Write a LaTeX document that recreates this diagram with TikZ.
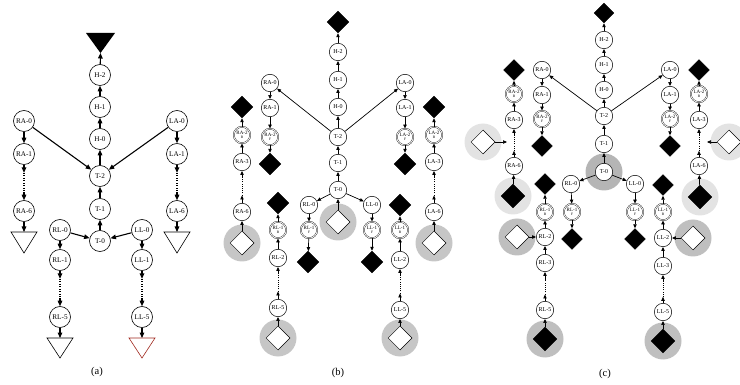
\documentclass[tikz,border=0pt]{standalone}
\usepackage{fontspec}
\setmainfont{Liberation Serif}
\usetikzlibrary{arrows.meta,calc,shapes.geometric}

\tikzset{
  nA/.style={circle, draw, line width=0.6pt, fill=white, minimum size=21pt, inner sep=0pt, font=\fontsize{7.2}{8}\selectfont},
  nB/.style={circle, draw, line width=0.5pt, fill=white, minimum size=17.4pt, inner sep=0pt, font=\fontsize{6}{7}\selectfont},
  nD/.style={circle, draw, fill=white, line width=0.35pt, double, double distance=0.8pt, minimum size=16.4pt, inner sep=0pt, align=center, font=\fontsize{5}{5}\selectfont},
  dblk/.style={diamond, fill=black, draw=black, inner sep=0pt, minimum width=#1pt, minimum height=#1pt},
  dblk/.default=22,
  dwht/.style={diamond, fill=white, draw=black, line width=0.5pt, inner sep=0pt, minimum width=24pt, minimum height=24pt},
  halo/.style={circle, inner sep=0pt, minimum size=37pt, fill=#1},
  ea/.style={line width=1.1pt, -{Triangle[length=5.5pt,width=4.6pt]}},
  eb/.style={line width=0.7pt, -{Triangle[length=4pt,width=3.4pt]}},
  dA/.style={line width=1.2pt, dash pattern=on 1pt off 1.5pt},
  dB/.style={line width=0.9pt, dash pattern=on 0.9pt off 1.3pt},
  captext/.style={font=\fontsize{10.5}{12}\selectfont},
  tri/.style={draw=black, line width=0.6pt, fill=white},
}

% arrow, dotted run, arrow: an elided stretch of a chain
\newcommand\dotlink[4]{%
  \draw[#1] (#3) -- ($(#3)!0.33!(#4)$);
  \draw[#2] ($(#3)!0.33!(#4)$) -- ($(#3)!0.67!(#4)$);
  \draw[#1] ($(#3)!0.67!(#4)$) -- (#4);
}
\newcommand\sublabel[2]{#1\\[-1.6pt]{\fontsize{3.6}{3.6}\selectfont #2}}

\begin{document}
\begin{tikzpicture}[x=1pt,y=-1pt]
\useasboundingbox (0,0) rectangle (740,385);

% ================= (a) =================
\fill (86,33) -- (115,33) -- (100.5,53) -- cycle;
\coordinate (tHa) at (100.5,53);
\draw[tri] (11,232) -- (37,232) -- (24,253) -- cycle;
\coordinate (tRAa) at (24,232);
\draw[tri] (164,232) -- (190,232) -- (177,253) -- cycle;
\coordinate (tLAa) at (177,232);
\draw[tri] (47,338) -- (73,338) -- (60,358) -- cycle;
\coordinate (tRLa) at (60,338);
\draw[tri, draw={rgb,255:red,160;green,40;blue,30}] (129,338) -- (155,338) -- (142,358) -- cycle;
\coordinate (tLLa) at (142,338);

\node[nA] (H2a) at (100,75) {H-2};
\node[nA] (H1a) at (100,107) {H-1};
\node[nA] (H0a) at (100,139) {H-0};
\node[nA] (T2a) at (100,176) {T-2};
\node[nA] (T1a) at (100,209) {T-1};
\node[nA] (T0a) at (100,241) {T-0};
\node[nA] (RA0a) at (24,121) {RA-0};
\node[nA] (RA1a) at (24,154) {RA-1};
\node[nA] (RA6a) at (24,211) {RA-6};
\node[nA] (LA0a) at (177,121) {LA-0};
\node[nA] (LA1a) at (177,154) {LA-1};
\node[nA] (LA6a) at (177,211) {LA-6};
\node[nA] (RL0a) at (60,230) {RL-0};
\node[nA] (RL1a) at (60,260) {RL-1};
\node[nA] (RL5a) at (60,317) {RL-5};
\node[nA] (LL0a) at (142,230) {LL-0};
\node[nA] (LL1a) at (142,260) {LL-1};
\node[nA] (LL5a) at (142,317) {LL-5};

\draw[ea] (H2a) -- (tHa);
\draw[ea] (H1a) -- (H2a);
\draw[ea] (H0a) -- (H1a);
\draw[ea] (T2a) -- (H0a);
\draw[ea] (T1a) -- (T2a);
\draw[ea] (T0a) -- (T1a);
\draw[ea] (RA0a) -- (T2a);
\draw[ea] (LA0a) -- (T2a);
\draw[ea] (RL0a) -- (T0a);
\draw[ea] (LL0a) -- (T0a);
\draw[ea] (RA0a) -- (RA1a);
\dotlink{ea}{dA}{RA1a}{RA6a}
\draw[ea] (RA6a) -- (tRAa);
\draw[ea] (LA0a) -- (LA1a);
\dotlink{ea}{dA}{LA1a}{LA6a}
\draw[ea] (LA6a) -- (tLAa);
\draw[ea] (RL0a) -- (RL1a);
\dotlink{ea}{dA}{RL1a}{RL5a}
\draw[ea] (RL5a) -- (tRLa);
\draw[ea] (LL0a) -- (LL1a);
\dotlink{ea}{dA}{LL1a}{LL5a}
\draw[ea] (LL5a) -- (tLLa);

\node[captext] (capa) at (97,372) {(a)};

% ================= (b) =================
\node[halo=gray!45] (g0b) at (338,222) {};
\node[halo=gray!45] (gRAb) at (242,243) {};
\node[halo=gray!45] (gLAb) at (434,243) {};
\node[halo=gray!45] (gRLb) at (278,338) {};
\node[halo=gray!45] (gLLb) at (400,338) {};

\node[dblk] (Dtopb) at (338,22) {};
\node[nB] (H2b) at (338,52) {H-2};
\node[nB] (H1b) at (338,80) {H-1};
\node[nB] (H0b) at (338,107) {H-0};
\node[nB] (T2b) at (338,137) {T-2};
\node[nB] (T1b) at (338,163) {T-1};
\node[nB] (T0b) at (338,190) {T-0};
\node[dwht] (W0b) at (338,222) {};

\node[nB] (RA0b) at (270,83) {RA-0};
\node[nB] (RA1b) at (270,108) {RA-1};
\node[nD] (RA2Fb) at (270,137) {\sublabel{RA-2}{F}};
\node[dblk] (DRAFb) at (270,164) {};
\node[dblk] (DRABb) at (242,107) {};
\node[nD] (RA2Bb) at (242,135) {\sublabel{RA-2}{B}};
\node[nB] (RA3b) at (242,162) {RA-3};
\node[nB] (RA6b) at (242,212) {RA-6};
\node[dwht] (WRAb) at (242,243) {};

\node[nB] (LA0b) at (405,83) {LA-0};
\node[nB] (LA1b) at (405,108) {LA-1};
\node[nD] (LA2Fb) at (405,137) {\sublabel{LA-2}{F}};
\node[dblk] (DLAFb) at (405,164) {};
\node[dblk] (DLABb) at (434,107) {};
\node[nD] (LA2Bb) at (434,135) {\sublabel{LA-2}{B}};
\node[nB] (LA3b) at (434,162) {LA-3};
\node[nB] (LA6b) at (434,212) {LA-6};
\node[dwht] (WLAb) at (434,243) {};

\node[nB] (RL0b) at (309,205) {RL-0};
\node[nD] (RL1Fb) at (309,230) {\sublabel{RL-1}{F}};
\node[dblk] (DRLFb) at (308,262) {};
\node[dblk] (DRLBb) at (278,203) {};
\node[nD] (RL1Bb) at (278,230) {\sublabel{RL-1}{B}};
\node[nB] (RL2b) at (278,258) {RL-2};
\node[nB] (RL5b) at (278,308) {RL-5};
\node[dwht] (WRLb) at (278,338) {};

\node[nB] (LL0b) at (372,205) {LL-0};
\node[nD] (LL1Fb) at (372,230) {\sublabel{LL-1}{F}};
\node[dblk] (DLLFb) at (372,262) {};
\node[dblk] (DLLBb) at (400,205) {};
\node[nD] (LL1Bb) at (400,230) {\sublabel{LL-1}{B}};
\node[nB] (LL2b) at (400,260) {LL-2};
\node[nB] (LL5b) at (400,310) {LL-5};
\node[dwht] (WLLb) at (400,338) {};

\draw[eb] (H2b) -- (Dtopb);
\draw[eb] (H1b) -- (H2b);
\draw[eb] (H0b) -- (H1b);
\draw[eb] (T2b) -- (H0b);
\draw[eb] (T1b) -- (T2b);
\draw[eb] (T0b) -- (T1b);
\draw[eb] (W0b) -- (T0b);
\draw[eb] (T2b) -- (RA0b);
\draw[eb] (T2b) -- (LA0b);
\draw[eb] (T0b) -- (RL0b);
\draw[eb] (T0b) -- (LL0b);

\draw[eb] (RA0b) -- (RA1b);
\draw[eb] (RA1b) -- (RA2Fb);
\draw[eb] (RA2Fb) -- (DRAFb);
\draw[eb] (RA2Bb) -- (DRABb);
\draw[eb] (RA3b) -- (RA2Bb);
\dotlink{eb}{dB}{RA6b}{RA3b}
\draw[eb] (WRAb) -- (RA6b);

\draw[eb] (LA0b) -- (LA1b);
\draw[eb] (LA1b) -- (LA2Fb);
\draw[eb] (LA2Fb) -- (DLAFb);
\draw[eb] (LA2Bb) -- (DLABb);
\draw[eb] (LA3b) -- (LA2Bb);
\dotlink{eb}{dB}{LA6b}{LA3b}
\draw[eb] (WLAb) -- (LA6b);

\draw[eb] (RL0b) -- (RL1Fb);
\draw[eb] (RL1Fb) -- (DRLFb);
\draw[eb] (RL1Bb) -- (DRLBb);
\draw[eb] (RL2b) -- (RL1Bb);
\dotlink{eb}{dB}{RL5b}{RL2b}
\draw[eb] (WRLb) -- (RL5b);

\draw[eb] (LL0b) -- (LL1Fb);
\draw[eb] (LL1Fb) -- (DLLFb);
\draw[eb] (LL1Bb) -- (DLLBb);
\draw[eb] (LL2b) -- (LL1Bb);
\dotlink{eb}{dB}{LL5b}{LL2b}
\draw[eb] (WLLb) -- (LL5b);

\node[captext] (capb) at (338,373) {(b)};

% ================= (c) =================
\node[halo=gray!58] (g0c) at (604,172) {};
\node[halo=gray!22] (gRA6c) at (513,196) {};
\node[halo=gray!22] (gLA6c) at (700,197) {};
\node[halo=gray!22] (gRAc) at (483,142) {};
\node[halo=gray!22] (gLAc) at (729,142) {};
\node[halo=gray!50] (gRL2c) at (517,237) {};
\node[halo=gray!50] (gLL2c) at (693,238) {};
\node[halo=gray!50] (gRL5c) at (545,339) {};
\node[halo=gray!50] (gLL5c) at (663,341) {};

\node[dblk=20] (Dtopc) at (604,13) {};
\node[nB] (H2c) at (604,40) {H-2};
\node[nB] (H1c) at (604,65) {H-1};
\node[nB] (H0c) at (604,90) {H-0};
\node[nB] (T2c) at (604,116) {T-2};
\node[nB] (T1c) at (604,144) {T-1};
\node[nB] (T0c) at (604,172) {T-0};

\node[nB] (RA0c) at (542,70) {RA-0};
\node[nB] (RA1c) at (542,95) {RA-1};
\node[nD] (RA2Fc) at (542,119) {\sublabel{RA-2}{F}};
\node[dblk=21] (DRAFc) at (542,146) {};
\node[dblk=21] (DRABc) at (514,70) {};
\node[nD] (RA2Bc) at (514,94) {\sublabel{RA-2}{B}};
\node[nB] (RA3c) at (514,120) {RA-3};
\node[nB] (RA6c) at (514,166) {RA-6};
\node[dblk=24] (DRA6c) at (513,196) {};
\node[dwht] (WRAc) at (483,142) {};
\coordinate (jRAc) at (507,142);

\node[nB] (LA0c) at (670,70) {LA-0};
\node[nB] (LA1c) at (670,95) {LA-1};
\node[nD] (LA2Fc) at (670,119) {\sublabel{LA-2}{F}};
\node[dblk=21] (DLAFc) at (670,146) {};
\node[dblk=21] (DLABc) at (699,70) {};
\node[nD] (LA2Bc) at (699,94) {\sublabel{LA-2}{B}};
\node[nB] (LA3c) at (699,120) {LA-3};
\node[nB] (LA6c) at (699,166) {LA-6};
\node[dblk=24] (DLA6c) at (700,197) {};
\node[dwht] (WLAc) at (729,142) {};
\coordinate (jLAc) at (707,142);

\node[nB] (RL0c) at (571,184) {RL-0};
\node[nD] (RL1Fc) at (572,212) {\sublabel{RL-1}{F}};
\node[dblk=21] (DRLFc) at (572,239) {};
\node[dblk=21] (DRLBc) at (545,184) {};
\node[nD] (RL1Bc) at (545,212) {\sublabel{RL-1}{B}};
\node[nB] (RL2c) at (545,237) {RL-2};
\node[nB] (RL3c) at (545,263) {RL-3};
\node[nB] (RL5c) at (545,310) {RL-5};
\node[dblk=24] (DRL5c) at (545,339) {};
\node[dwht] (WRLc) at (517,237) {};

\node[nB] (LL0c) at (635,184) {LL-0};
\node[nD] (LL1Fc) at (635,212) {\sublabel{LL-1}{F}};
\node[dblk=21] (DLLFc) at (635,239) {};
\node[dblk=21] (DLLBc) at (663,185) {};
\node[nD] (LL1Bc) at (663,212) {\sublabel{LL-1}{B}};
\node[nB] (LL2c) at (663,238) {LL-2};
\node[nB] (LL3c) at (663,266) {LL-3};
\node[nB] (LL5c) at (663,312) {LL-5};
\node[dblk=24] (DLL5c) at (663,341) {};
\node[dwht] (WLLc) at (693,238) {};

\draw[eb] (H2c) -- (Dtopc);
\draw[eb] (H1c) -- (H2c);
\draw[eb] (H0c) -- (H1c);
\draw[eb] (T2c) -- (H0c);
\draw[eb] (T1c) -- (T2c);
\draw[eb] (T0c) -- (T1c);
\draw[eb] (T2c) -- (RA0c);
\draw[eb] (T2c) -- (LA0c);
\draw[eb] (T0c) -- (RL0c);
\draw[eb] (T0c) -- (LL0c);

\draw[eb] (RA0c) -- (RA1c);
\draw[eb] (RA1c) -- (RA2Fc);
\draw[eb] (RA2Fc) -- (DRAFc);
\draw[eb] (RA2Bc) -- (DRABc);
\draw[eb] (RA3c) -- (RA2Bc);
\dotlink{eb}{dB}{RA6c}{RA3c}
\draw[eb] (DRA6c) -- (RA6c);
\draw[eb] (WRAc) -- (jRAc);

\draw[eb] (LA0c) -- (LA1c);
\draw[eb] (LA1c) -- (LA2Fc);
\draw[eb] (LA2Fc) -- (DLAFc);
\draw[eb] (LA2Bc) -- (DLABc);
\draw[eb] (LA3c) -- (LA2Bc);
\dotlink{eb}{dB}{LA6c}{LA3c}
\draw[eb] (DLA6c) -- (LA6c);
\draw[eb] (WLAc) -- (jLAc);

\draw[eb] (RL0c) -- (RL1Fc);
\draw[eb] (RL1Fc) -- (DRLFc);
\draw[eb] (RL1Bc) -- (DRLBc);
\draw[eb] (RL2c) -- (RL1Bc);
\draw[eb] (RL3c) -- (RL2c);
\dotlink{eb}{dB}{RL5c}{RL3c}
\draw[eb] (DRL5c) -- (RL5c);
\draw[eb] (WRLc) -- (RL2c);

\draw[eb] (LL0c) -- (LL1Fc);
\draw[eb] (LL1Fc) -- (DLLFc);
\draw[eb] (LL1Bc) -- (DLLBc);
\draw[eb] (LL2c) -- (LL1Bc);
\draw[eb] (LL3c) -- (LL2c);
\dotlink{eb}{dB}{LL5c}{LL3c}
\draw[eb] (DLL5c) -- (LL5c);
\draw[eb] (WLLc) -- (LL2c);

\node[captext] (capc) at (605,374) {(c)};
\end{tikzpicture}
\end{document}
